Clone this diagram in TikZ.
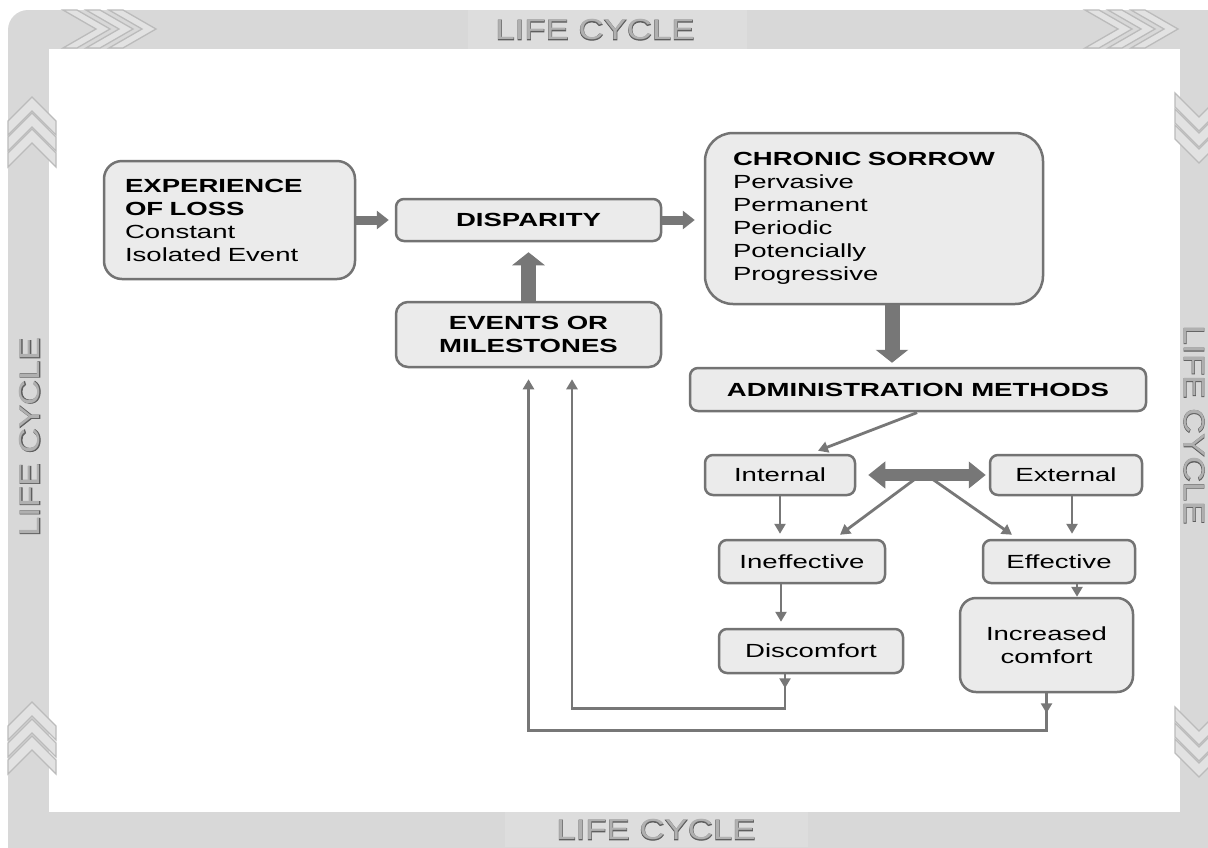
\documentclass[tikz,border=0pt]{standalone}
\usepackage{fontspec}
\usetikzlibrary{arrows.meta,calc,decorations.markings}
\newfontfamily\dfont[FakeStretch=1.45]{Liberation Sans}
\newfontfamily\lcfont[FakeStretch=1.2]{Liberation Sans}
\newfontfamily\lcbfont[FakeStretch=1.2,FakeBold=3]{Liberation Sans}
\definecolor{band}{HTML}{D8D8D8}
\definecolor{bandlight}{HTML}{DDDDDD}
\definecolor{chevfill}{HTML}{E2E2E2}
\definecolor{chevline}{HTML}{BBBBBB}
\definecolor{boxfill}{HTML}{EBEBEB}
\definecolor{boxline}{HTML}{737373}
\definecolor{arr}{HTML}{777777}
\definecolor{lcdark}{HTML}{5E5E5E}
\definecolor{lclight}{HTML}{B0B0B0}
\tikzset{
  box/.style={draw=boxline, fill=boxfill, line width=2.5pt, rounded corners=8pt,
    font=\dfont\fontsize{19}{23}\selectfont, text=black, inner sep=0pt},
  bigarrow/.style={draw=arr, line width=9pt, -{Triangle[width=18pt,length=12pt]}},
  fatarrow/.style={draw=arr, line width=15pt, -{Triangle[width=32pt,length=13pt]}},
  dblarrow/.style={draw=arr, line width=12pt,
    {Triangle[width=26pt,length=17pt]}-{Triangle[width=26pt,length=17pt]}},
  thinarrow/.style={draw=arr, color=arr, line width=2.8pt, -{Triangle[width=11pt,length=10pt]}},
  midtip/.style={postaction={decorate}, decoration={markings,
    mark=at position #1 with {\arrow{Triangle[width=11pt,length=10pt]}}}},
  chev/.style={fill=chevfill, draw=chevline, line width=1.3pt, line join=miter},
  lcb/.style={text=lcdark, font=\lcbfont\fontsize{29}{29}\selectfont, inner sep=0pt},
  lcf/.style={text=lclight, font=\lcfont\fontsize{29}{29}\selectfont, inner sep=0pt},
}
\newcommand\mychev[5]{%
  \filldraw[chev, shift={(#1,#2)}, rotate=#3] (0,-#4) -- (14,-#4) -- (#5,0) -- (14,#4) -- (0,#4) -- ({#5-14},0) -- cycle;}
\begin{document}
\begin{tikzpicture}[x=1pt,y=-1pt]
\useasboundingbox (0,0) rectangle (1208,847);
\clip (0,0) rectangle (1208,847);
\fill[white] (0,0) rectangle (1208,847);
% frame
\fill[band, rounded corners=20pt] (8,10) rectangle (1240,880);
\fill[bandlight] (468,10) rectangle (747,49);
\fill[bandlight] (505,812) rectangle (808,847);
\fill[white] (49,49) rectangle (1180,812);
% chevrons
\foreach \x in {63,86,109} {\mychev{\x}{29}{0}{19}{47}}
\foreach \x in {1085,1108,1131} {\mychev{\x}{29}{0}{19}{47}}
\foreach \y in {135,151,167} {\mychev{32}{\y}{90}{24}{38}}
\foreach \y in {740,757,774} {\mychev{32}{\y}{90}{24}{38}}
\foreach \y in {93,109,125} {\mychev{1199}{\y}{-90}{24}{38}}
\foreach \y in {707,723,739} {\mychev{1199}{\y}{-90}{24}{38}}
% LIFE CYCLE labels
\node[lcb] (ltb) at (595,30) {LIFE CYCLE};
\node[lcf] (lt) at (595,30) {LIFE CYCLE};
\node[lcb] (lbb) at (656,830) {LIFE CYCLE};
\node[lcf] (lb) at (656,830) {LIFE CYCLE};
\node[lcb, rotate=90] (llb) at (30,437) {LIFE CYCLE};
\node[lcf, rotate=90] (ll) at (30,437) {LIFE CYCLE};
\node[lcb, rotate=-90] (lrb) at (1194,425) {LIFE CYCLE};
\node[lcf, rotate=-90] (lr) at (1194,425) {LIFE CYCLE};
% boxes
\node[box, rounded corners=18pt, minimum width=251pt, minimum height=118pt, text width=209pt, align=left] (exp) at (229.5,220)
  {\textbf{EXPERIENCE}\\\textbf{OF LOSS}\\Constant\\Isolated Event};
\node[box, minimum width=265pt, minimum height=42pt] (disp) at (528.5,220) {\textbf{DISPARITY}};
\node[box, rounded corners=12pt, minimum width=265pt, minimum height=65pt, align=center] (ev) at (528.5,334.5)
  {\textbf{EVENTS OR}\\\textbf{MILESTONES}};
\node[box, rounded corners=28pt, minimum width=338pt, minimum height=171pt, text width=282pt, align=left] (chr) at (874,218.5)
  {\textbf{CHRONIC SORROW}\\Pervasive\\Permanent\\Periodic\\Potencially\\Progressive};
\node[box, minimum width=456pt, minimum height=43pt] (adm) at (918,389.5) {\textbf{ADMINISTRATION METHODS}};
\node[box, minimum width=150pt, minimum height=40pt] (int) at (780,475) {Internal};
\node[box, minimum width=152pt, minimum height=40pt] (ext) at (1066,475) {External};
\node[box, minimum width=166pt, minimum height=43pt] (ineff) at (802,561.5) {Ineffective};
\node[box, minimum width=152pt, minimum height=43pt] (eff) at (1059,561.5) {Effective};
\node[box, minimum width=184pt, minimum height=44pt] (disc) at (811,651) {Discomfort};
\node[box, rounded corners=16pt, minimum width=173pt, minimum height=94pt, align=center] (inc) at (1046.5,645)
  {Increased\\comfort};
% thick arrows
\draw[bigarrow, shorten >=6pt] (exp.east) -- (disp.west);
\draw[bigarrow, shorten >=9pt] (disp.east) -- (disp.east -| chr.west);
\draw[fatarrow, shorten >=10pt] (ev.north) -- (disp.south);
\draw[fatarrow, shorten >=4pt] ([xshift=18pt]chr.south) -- ([xshift=18pt]chr.south |- adm.north);
% admin -> internal
\draw[thinarrow, shorten <=1pt] (adm.south) -- ([xshift=38pt,yshift=3pt]int.north);
% fan lines from double arrow
\coordinate (fan) at ($(int.east)!0.5!(ext.west)$);
\draw[thinarrow] ([xshift=-2pt]fan) -- ([xshift=38pt,yshift=4pt]ineff.north);
\draw[thinarrow] ([xshift=4pt]fan) -- ([xshift=-47pt,yshift=4pt]eff.north);
\draw[dblarrow, shorten <=12pt, shorten >=3pt] (int.east) -- (ext.west);
% vertical thin arrows
\draw[thinarrow, shorten >=5pt] (int.south) -- (int.south |- ineff.north);
\draw[thinarrow, shorten >=5pt] ([xshift=6pt]ext.south) -- ([xshift=6pt]ext.south |- eff.north);
\draw[thinarrow, shorten >=6pt] ([xshift=-21pt]ineff.south) -- ([xshift=-21pt]ineff.south |- disc.north);
\draw[thinarrow] ([xshift=18pt]eff.south) -- ([xshift=18pt]eff.south |- inc.north);
% feedback loops
\draw[thinarrow, midtip=14pt, shorten >=11pt] ([xshift=-26pt]disc.south) -- ++(0,34) -| ([xshift=43.5pt]ev.south);
\draw[thinarrow, midtip=20pt, shorten >=11pt] (inc.south) -- ++(0,37) -| (ev.south);
\end{tikzpicture}
\end{document}
